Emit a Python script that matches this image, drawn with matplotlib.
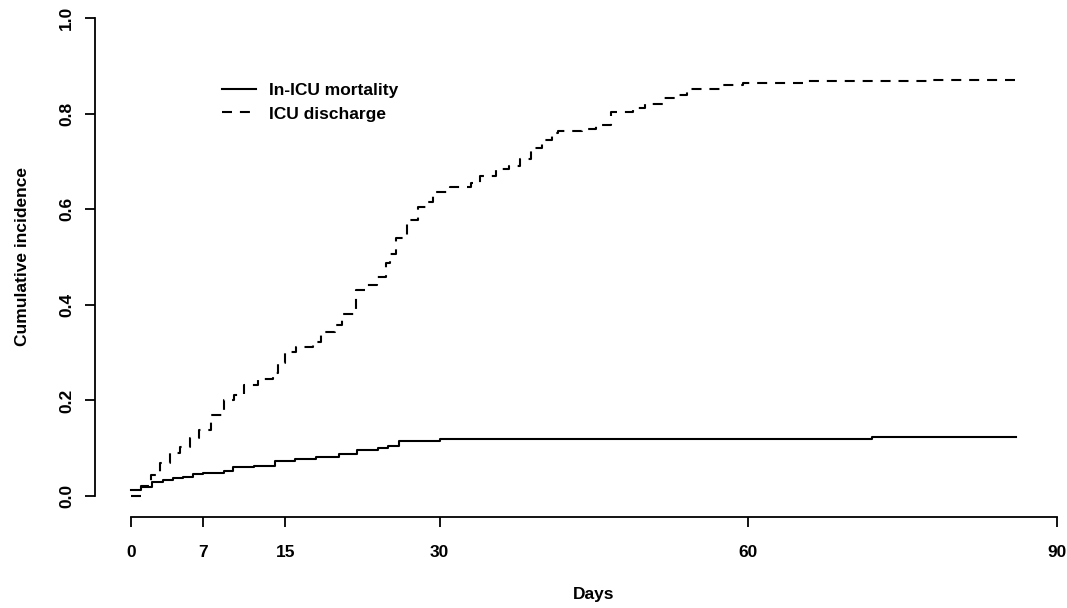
import matplotlib.pyplot as plt

plt.rcParams['font.family'] = ['Liberation Sans', 'DejaVu Sans']
plt.rcParams['font.weight'] = 'bold'

# in-ICU mortality (cumulative incidence, step curve)
death_days = [0, 1.0, 2.0, 3.1, 4.1, 5.1, 6.0, 7.0, 9.0, 9.9, 12.0, 14.0, 15.9,
              18.0, 20.2, 22.0, 24.0, 25.0, 26.0, 30.0, 72.0, 86.0]
death_ci = [0.012, 0.019, 0.030, 0.033, 0.037, 0.040, 0.045, 0.049, 0.053, 0.060,
            0.063, 0.073, 0.077, 0.082, 0.088, 0.096, 0.100, 0.105, 0.116, 0.119,
            0.123, 0.123]

# ICU discharge
disc_days = [0, 1.0, 1.9, 2.8, 3.8, 4.8, 5.7, 6.6, 7.8, 9.0, 10.0, 11.0, 12.3, 13.8,
             14.3, 15.0, 16.0, 17.7, 18.5, 19.8, 20.5, 21.9, 22.9, 23.9, 24.8, 25.2,
             25.8, 26.8, 27.9, 28.8, 29.4, 31.0, 33.0, 33.9, 35.5, 36.7, 37.8, 38.9,
             39.9, 40.9, 41.5, 43.8, 45.2, 46.7, 48.8, 50.0, 51.7, 53.0, 54.0, 57.2,
             59.5, 65.7, 77.8, 86.0]
disc_ci = [0.0, 0.020, 0.044, 0.068, 0.089, 0.103, 0.121, 0.138, 0.169, 0.201, 0.211,
           0.232, 0.244, 0.258, 0.278, 0.302, 0.311, 0.323, 0.344, 0.358, 0.380, 0.431,
           0.441, 0.459, 0.487, 0.506, 0.539, 0.577, 0.605, 0.616, 0.637, 0.647, 0.654,
           0.669, 0.685, 0.690, 0.706, 0.727, 0.745, 0.759, 0.764, 0.768, 0.776, 0.804,
           0.811, 0.821, 0.832, 0.839, 0.851, 0.860, 0.864, 0.868, 0.870, 0.870]

xticks = [0, 7, 15, 30, 60, 90]
yticks = [0.0, 0.2, 0.4, 0.6, 0.8, 1.0]
ytick_labels = ['0.0', '0.2', '0.4', '0.6', '0.8', '1.0']

fs = 12.5
W, H = 1067, 608
fig = plt.figure(figsize=(W / 100, H / 100), dpi=100)
ax = fig.add_axes([131 / W, (H - 496) / H, 926 / W, 478 / H])

ax.step(death_days, death_ci, where='post', color='black', lw=1.5,
        label='In-ICU mortality', clip_on=False)
ax.step(disc_days, disc_ci, where='post', color='black', lw=1.5,
        linestyle=(0, (4.8, 3.8)), label='ICU discharge', clip_on=False)

ax.set_xlim(0, 90)
ax.set_ylim(0, 1)
ax.set_xticks(xticks)
ax.set_yticks(yticks)
ax.set_yticklabels(ytick_labels)

for s in ['top', 'right']:
    ax.spines[s].set_visible(False)
ax.spines['left'].set_position(('outward', 26))
ax.spines['bottom'].set_position(('outward', 15))
ax.spines['left'].set_bounds(0, 1)
ax.spines['bottom'].set_bounds(0, 90)
for s in ['left', 'bottom']:
    ax.spines[s].set_linewidth(1.3)
ax.tick_params(width=1.3, length=7, labelsize=fs, colors='black')
ax.tick_params(axis='x', pad=13)
ax.tick_params(axis='y', pad=8, labelrotation=90)
for lab in ax.get_yticklabels():
    lab.set_va('center')

ax.set_xlabel('Days', fontsize=fs, fontweight='bold', labelpad=20)
ax.set_ylabel('Cumulative incidence', fontsize=fs, fontweight='bold', labelpad=21)

ax.legend(loc='upper left', bbox_to_anchor=(0.098, 0.865), frameon=False,
          fontsize=fs, borderpad=0, borderaxespad=0, handlelength=2.0,
          handletextpad=0.75, labelspacing=0.5)

fig.savefig('out.png', dpi=100)
